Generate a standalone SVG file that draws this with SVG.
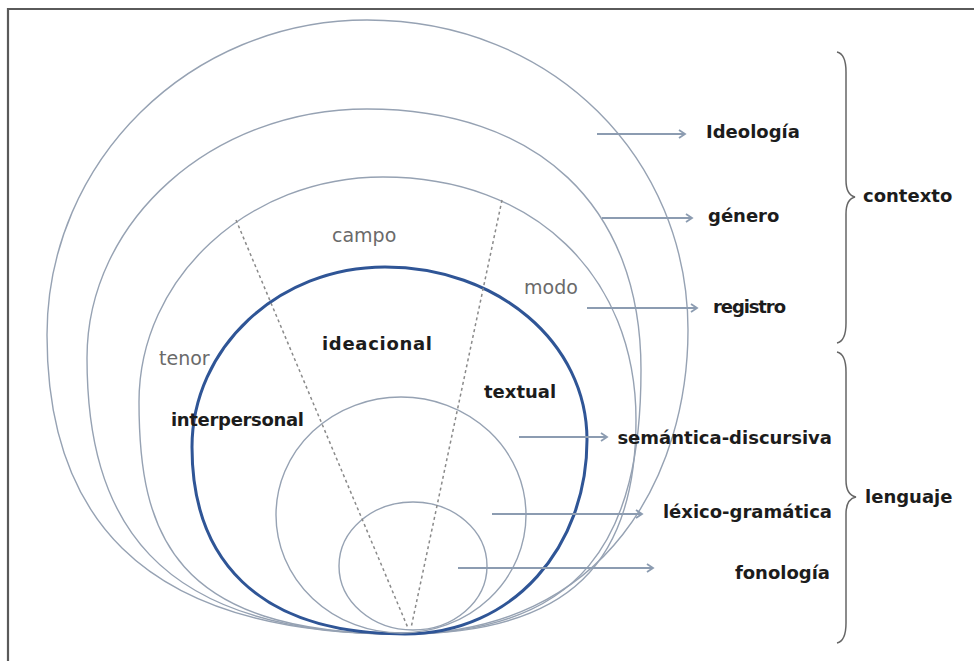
<svg xmlns="http://www.w3.org/2000/svg" width="974" height="661" viewBox="0 0 974 661">
<style>
.ring{fill:none;stroke:#96a2b3;stroke-width:1.4}
.blue{fill:none;stroke:#2f5596;stroke-width:3}
.dash{fill:none;stroke:#8a8a8a;stroke-width:1.5;stroke-dasharray:3 3}
.arr{fill:none;stroke:#8c9cb1;stroke-width:2;marker-end:url(#ah)}
.brace{fill:none;stroke:#666;stroke-width:1.5}
.b{font-family:"DejaVu Sans",sans-serif;font-weight:bold;font-size:18px;fill:#1c1c1c}
.g{font-family:"DejaVu Sans",sans-serif;font-size:19px;fill:#6a6a6a}
</style>
<defs>
<marker id="ah" markerWidth="10" markerHeight="10" refX="8" refY="5" orient="auto" markerUnits="userSpaceOnUse">
<path d="M2,1 L8,5 L2,9" fill="none" stroke="#8c9cb1" stroke-width="1.8"/>
</marker>
</defs>
<rect width="974" height="661" fill="#ffffff"/>
<g id="frame">
<path d="M8,661 L8,9 L974,9" fill="none" stroke="#5a5a5a" stroke-width="2.2"/>
</g>
<g id="ideologia-ring"><path class="ring" d="M367,20 C554,20 688,160 688,330 C688,470 610,634 400,634 C130,634 47,505 47,335 C47,161 190,20 367,20 Z"/></g>
<g id="genero-ring"><path class="ring" d="M367,109 C537,109 641,205 641,370 C641,539 583,634 400,634 C150,634 87,515 87,358 C87,221 212,109 367,109 Z"/></g>
<g id="registro-ring"><path class="ring" d="M383,177 C533,177 636,275 636,420 C636,560 572,634 402,634 C172,634 139,532 139,402 C139,278 248,177 383,177 Z"/></g>
<g id="semantica-ring"><path class="blue" d="M385,267 C497,267 587,342 587,440 C587,545 515,634 405,634 C255,634 192,557 192,447 C192,348 278,267 385,267 Z"/></g>
<g id="lexico-ring"><ellipse class="ring" cx="401" cy="515" rx="125" ry="118"/></g>
<g id="fonologia-ring"><ellipse class="ring" cx="413" cy="566" rx="74" ry="64"/></g>
<g id="sectors">
<line class="dash" x1="236" y1="220" x2="408" y2="628"/>
<line class="dash" x1="502" y1="200" x2="411" y2="628"/>
</g>
<g id="register-labels">
<text class="g" x="332" y="242">campo</text>
<text class="g" x="524" y="294">modo</text>
<text class="g" x="159" y="365">tenor</text>
</g>
<g id="metafunction-labels">
<text class="b" x="322" y="350" font-size="19" textLength="110">ideacional</text>
<text class="b" x="171" y="426" textLength="133">interpersonal</text>
<text class="b" x="484" y="398">textual</text>
</g>
<g id="connectors">
<line class="arr" x1="597" y1="134" x2="685" y2="134"/>
<line class="arr" x1="602" y1="218" x2="692" y2="218"/>
<line class="arr" x1="587" y1="308" x2="697" y2="308"/>
<line class="arr" x1="519" y1="437" x2="607" y2="437"/>
<line class="arr" x1="492" y1="514" x2="642" y2="514"/>
<line class="arr" x1="458" y1="568" x2="653" y2="568"/>
</g>
<g id="ideologia"><text class="b" x="706" y="138">Ideología</text></g>
<g id="genero"><text class="b" x="708" y="222">género</text></g>
<g id="registro"><text class="b" x="713" y="313" textLength="73">registro</text></g>
<g id="semantica"><text class="b" x="832" y="444" text-anchor="end">semántica-discursiva</text></g>
<g id="lexico"><text class="b" x="832" y="518" text-anchor="end">léxico-gramática</text></g>
<g id="fonologia"><text class="b" x="830" y="579" text-anchor="end">fonología</text></g>
<g id="contexto">
<path class="brace" d="M837,52 Q846,54 846,72 L846,180 Q846,195 855,197 Q846,199 846,214 L846,323 Q846,341 837,343"/>
<text class="b" x="863" y="202">contexto</text>
</g>
<g id="lenguaje">
<path class="brace" d="M837,352 Q846,354 846,372 L846,480 Q846,495 856,497 Q846,499 846,514 L846,623 Q846,641 837,643"/>
<text class="b" x="865" y="503">lenguaje</text>
</g>
</svg>
